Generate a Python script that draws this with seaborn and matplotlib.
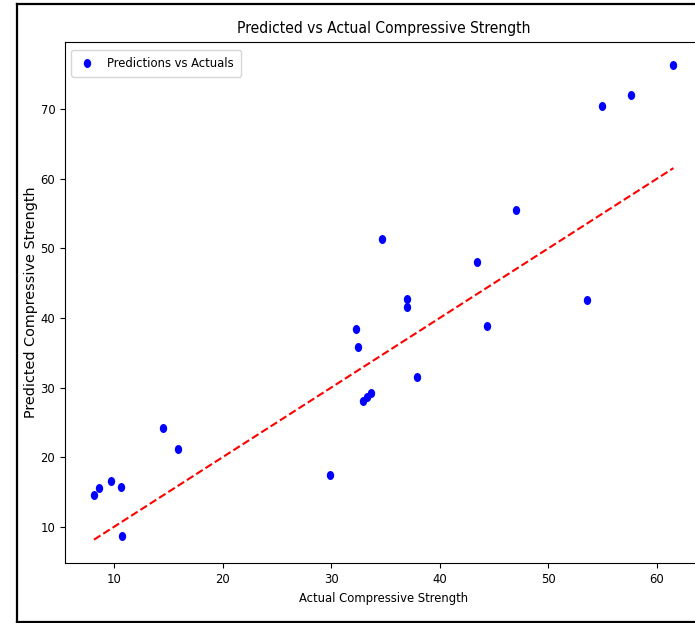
import matplotlib
matplotlib.use("Agg")
import matplotlib.pyplot as plt
from matplotlib import font_manager as fm
from matplotlib.markers import MarkerStyle
from matplotlib.transforms import Affine2D
from matplotlib.lines import Line2D
import seaborn as sns
import pandas as pd

# ---- data ----
actual = [8.13, 8.59, 9.72, 10.62, 10.68, 14.49, 15.85, 29.87, 32.30, 32.45,
          32.97, 33.30, 33.65, 34.72, 36.97, 36.97, 37.90, 43.43, 44.35, 46.99,
          53.58, 54.96, 57.67, 61.54]
predicted = [14.6, 15.6, 16.6, 15.75, 8.66, 24.2, 21.1, 17.4, 38.36, 35.86,
             28.1, 28.6, 29.17, 51.3, 42.76, 41.6, 31.55, 48.07, 38.84, 55.55,
             42.57, 70.45, 72.1, 76.3]
title = "Predicted vs Actual Compressive Strength"
xlabel = "Actual Compressive Strength"
ylabel = "Predicted Compressive Strength"
legend_label = "Predictions vs Actuals"

# ---- narrow font choice (reference text is horizontally compressed) ----
ttf = fm.fontManager.ttflist
names = {f.name for f in ttf}
if any(f.name == "DejaVu Sans" and "condensed" in str(f.stretch) for f in ttf):
    nfam, nstretch, nscale = "DejaVu Sans", "condensed", 0.93
elif "Liberation Sans Narrow" in names:
    nfam, nstretch, nscale = "Liberation Sans Narrow", "normal", 1.1
else:
    nfam, nstretch, nscale = "DejaVu Sans", "normal", 0.82

plt.rcParams["font.family"] = [nfam, "DejaVu Sans"]
plt.rcParams["font.stretch"] = nstretch

df = pd.DataFrame({"Actual": actual, "Predicted": predicted})

fig = plt.figure(figsize=(6.95, 6.23), dpi=100)
W, H = 695, 623
ax_w, ax_h = 637.4, 521.7
ax = fig.add_axes([65 / W, (H - 563.4) / H, ax_w / W, ax_h / H])

marker = MarkerStyle("o", transform=Affine2D().scale(0.82, 1.0))
sns.scatterplot(data=df, x="Actual", y="Predicted", ax=ax, color="blue",
                marker=marker, s=42, linewidth=0, label=legend_label)
lo, hi = min(actual), max(actual)
ax.plot([lo, hi], [lo, hi], "r--", lw=1.5)

ax.set_xticks([10, 20, 30, 40, 50, 60])
ax.set_yticks([10, 20, 30, 40, 50, 60, 70])
fs = 10 * nscale
for lab in ax.get_xticklabels() + ax.get_yticklabels():
    lab.set_fontsize(fs)

ax.set_title(title, fontsize=12 * nscale)
ax.set_xlabel(xlabel, fontsize=fs)
ax.set_ylabel(ylabel, fontsize=10.4, family="DejaVu Sans", fontstretch="normal",
              labelpad=2.0)

unit = fs * 100 / 72.0
bp = 0.55
ax.legend(loc="upper left", bbox_to_anchor=(6 / ax_w, 1 - 8 / ax_h),
          borderaxespad=0, fontsize=fs, borderpad=bp,
          handlelength=1.36, handletextpad=0.91)

# outer screenshot frame
fx0, fy_top, fy_bot = 17.3 / W, 1 - 4.3 / H, 1 - 621.8 / H
for xs, ys in [([fx0, fx0], [fy_bot, fy_top]),
               ([fx0, 1.01], [fy_top, fy_top]),
               ([fx0, 1.01], [fy_bot, fy_bot])]:
    fig.add_artist(Line2D(xs, ys, transform=fig.transFigure, color="black", lw=1.6))

fig.savefig("out.png", dpi=100)
